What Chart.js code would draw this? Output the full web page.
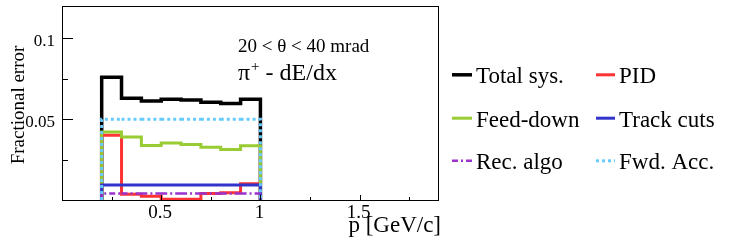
<!DOCTYPE html>
<html>
<head>
<meta charset="utf-8">
<script src="https://cdn.jsdelivr.net/npm/chart.js@4.4.1/dist/chart.umd.min.js"></script>
<style>
  html, body { margin: 0; padding: 0; background: #fff; }
  #wrap { width: 747px; height: 240px; position: relative; }
</style>
</head>
<body>
<div id="wrap"><canvas id="c" width="747" height="240"></canvas></div>
<script>
// ---- data ----
const binEdges   = [0.2, 0.3, 0.4, 0.5, 0.6, 0.7, 0.8, 0.9, 1.0];
const totalSys   = [0.0760, 0.0630, 0.0613, 0.0623, 0.0619, 0.0605, 0.0597, 0.0623];
const pid        = [0.0400, 0.0035, 0.0023, 0.0004, 0.0004, 0.0040, 0.0045, 0.0100];
const feedDown   = [0.0420, 0.0389, 0.0337, 0.0352, 0.0343, 0.0327, 0.0312, 0.0335];
const trackCuts  = [0.0093, 0.0093, 0.0093, 0.0093, 0.0093, 0.0093, 0.0093, 0.0093];
const recAlgo    = [0.0040, 0.0040, 0.0040, 0.0040, 0.0040, 0.0040, 0.0040, 0.0040];
const fwdAcc     = [0.0500, 0.0500, 0.0500, 0.0500, 0.0500, 0.0500, 0.0500, 0.0500];
const seriesNames = ["Total sys.", "PID", "Feed-down", "Track cuts", "Rec. algo", "Fwd. Acc."];
const xTickLabels = ["0.5", "1", "1.5"];
const xTickValues = [0.5, 1.0, 1.5];
const yTickLabels = ["0.05", "0.1"];
const yTickValues = [0.05, 0.1];

function stepPoints(vals) {
  const pts = [{x: binEdges[0], y: 0}];
  for (let i = 0; i < vals.length; i++) {
    pts.push({x: binEdges[i], y: vals[i]});
    pts.push({x: binEdges[i + 1], y: vals[i]});
  }
  pts.push({x: binEdges[binEdges.length - 1], y: 0});
  return pts;
}

const FONT = "'Liberation Serif', 'DejaVu Serif', serif";

const styles = [
  {color: '#000000', dash: [], width: 3.5, order: 6},
  {color: '#ff3333', dash: [], width: 3, order: 5},
  {color: '#99cc33', dash: [], width: 3, order: 4},
  {color: '#3333cc', dash: [], width: 3, order: 3},
  {color: '#9933cc', dash: [6, 3, 2, 3], width: 2.5, order: 2},
  {color: '#66ccff', dash: [3, 3], width: 3, order: 1}
];
const seriesVals = [totalSys, pid, feedDown, trackCuts, recAlgo, fwdAcc];

const datasets = seriesVals.map((v, i) => ({
  label: seriesNames[i],
  data: stepPoints(v),
  borderColor: styles[i].color,
  borderDash: styles[i].dash,
  borderWidth: styles[i].width,
  borderCapStyle: 'butt',
  borderJoinStyle: 'miter',
  pointRadius: 0,
  fill: false,
  tension: 0,
  order: styles[i].order
}));

const decor = {
  id: 'decor',
  afterDraw(chart) {
    const ctx = chart.ctx;
    const a = chart.chartArea;
    const xs = chart.scales.x, ys = chart.scales.y;
    ctx.save();
    // frame
    ctx.strokeStyle = '#000';
    ctx.lineWidth = 1;
    ctx.setLineDash([]);
    ctx.strokeRect(Math.round(a.left) + 0.5, Math.round(a.top) + 0.5,
                   Math.round(a.right - a.left) - 1, Math.round(a.bottom - a.top));
    // y ticks
    ctx.beginPath();
    for (let v = 0.025; v < 0.12; v += 0.025) {
      const y = Math.round(ys.getPixelForValue(v)) + 0.5;
      const major = Math.abs(v / 0.05 - Math.round(v / 0.05)) < 1e-6;
      ctx.moveTo(a.left, y);
      ctx.lineTo(a.left + (major ? 11 : 6), y);
    }
    // x ticks
    for (let v = 0.25; v < 1.9; v += 0.25) {
      const x = Math.round(xs.getPixelForValue(v)) + 0.5;
      const major = Math.abs(v / 0.5 - Math.round(v / 0.5)) < 1e-6;
      ctx.moveTo(x, a.bottom);
      ctx.lineTo(x, a.bottom - (major ? 5 : 3));
    }
    ctx.stroke();
    // tick labels
    ctx.fillStyle = '#000';
    ctx.font = '17px ' + FONT;
    ctx.textAlign = 'right';
    ctx.textBaseline = 'middle';
    yTickValues.forEach((v, i) => {
      ctx.fillText(yTickLabels[i], a.left - 7, ys.getPixelForValue(v) + 3);
    });
    ctx.font = '19px ' + FONT;
    ctx.textAlign = 'center';
    ctx.textBaseline = 'alphabetic';
    xTickValues.forEach((v, i) => {
      ctx.fillText(xTickLabels[i], xs.getPixelForValue(v) - 1, 218);
    });
    // axis titles
    ctx.font = '23px ' + FONT;
    ctx.textAlign = 'right';
    ctx.fillText('p [GeV/c]', 441, 232);
    ctx.save();
    ctx.translate(24, 105);
    ctx.rotate(-Math.PI / 2);
    ctx.font = '19px ' + FONT;
    ctx.textAlign = 'center';
    ctx.fillText('Fractional error', 0, 0);
    ctx.restore();
    // annotations
    ctx.textAlign = 'left';
    ctx.font = '19px ' + FONT;
    ctx.fillText('20 < \u03B8 < 40 mrad', 238, 51.5);
    ctx.font = '24px ' + FONT;
    ctx.fillText('\u03C0', 238, 80);
    let w = ctx.measureText('\u03C0').width;
    ctx.font = '15px ' + FONT;
    ctx.fillText('+', 238 + w + 1, 71);
    let w2 = ctx.measureText('+').width;
    ctx.font = '24px ' + FONT;
    ctx.fillText(' - dE/dx', 238 + w + w2 + 1, 80);
    // legend
    const cols = [{lx0: 452, lx1: 472, tx: 476}, {lx0: 596, lx1: 615, tx: 619}];
    const rows = [83.3, 126.7, 169.3];
    ctx.font = '23px ' + FONT;
    for (let i = 0; i < seriesNames.length; i++) {
      const c = cols[i % 2], base = rows[Math.floor(i / 2)];
      const st = styles[i];
      ctx.beginPath();
      ctx.strokeStyle = st.color;
      ctx.lineWidth = st.width;
      ctx.setLineDash(st.dash);
      ctx.moveTo(c.lx0, base - 8.5);
      ctx.lineTo(c.lx1, base - 8.5);
      ctx.stroke();
      ctx.setLineDash([]);
      ctx.fillStyle = '#000';
      ctx.fillText(seriesNames[i], c.tx, base);
    }
    ctx.restore();
  }
};

new Chart(document.getElementById('c'), {
  type: 'line',
  data: { datasets },
  options: {
    responsive: false,
    animation: false,
    layout: { padding: { left: 62, right: 308, top: 6, bottom: 40 } },
    plugins: { legend: { display: false }, tooltip: { enabled: false } },
    scales: {
      x: { type: 'linear', min: 0, max: 1.9, display: false },
      y: { type: 'linear', min: 0, max: 0.12, display: false }
    }
  },
  plugins: [decor]
});
</script>
</body>
</html>
